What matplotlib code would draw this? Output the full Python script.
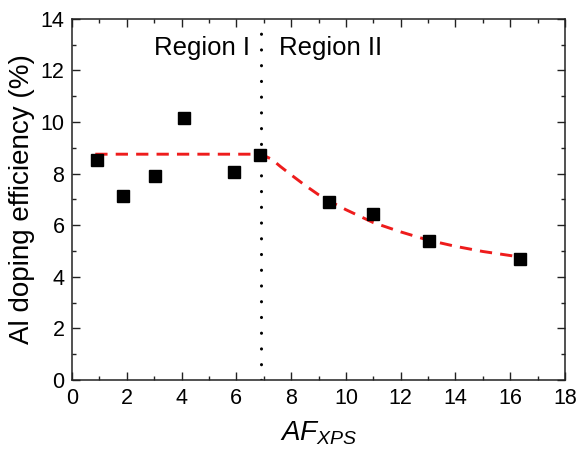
import matplotlib
matplotlib.use("Agg")
import matplotlib.pyplot as plt
from matplotlib.ticker import MultipleLocator

plt.rcParams['font.family'] = ['Liberation Sans', 'DejaVu Sans']
plt.rcParams['mathtext.fontset'] = 'custom'
plt.rcParams['mathtext.rm'] = 'Liberation Sans'
plt.rcParams['mathtext.it'] = 'Liberation Sans:italic'

# Measured doping efficiency versus AF_XPS
af_xps = [0.90, 1.87, 3.03, 4.09, 5.91, 6.86, 9.39, 11.0, 13.05, 16.36]
efficiency = [8.53, 7.14, 7.92, 10.17, 8.07, 8.70, 6.90, 6.43, 5.40, 4.70]

# Guide-to-the-eye trend curve
trend_x = [0.85, 6.90, 7.3, 7.6, 8.0, 8.5, 9.0, 9.5, 10.0, 11.0, 12.0, 13.0, 14.0, 15.0, 16.4]
trend_y = [8.75, 8.75, 8.55, 8.28, 7.95, 7.55, 7.18, 6.88, 6.60, 6.10, 5.74, 5.42, 5.18, 4.98, 4.76]

# Boundary between the two regions
boundary = 6.9

region_labels = ["Region I", "Region II"]

fig = plt.figure(figsize=(5.78, 4.62), dpi=100)
ax = fig.add_axes([0.1246, 0.1775, 0.8529, 0.782])

ax.plot(trend_x, trend_y, color='#ee1c1c', lw=2.1, linestyle=(0, (4.2, 2.8)), zorder=2)
ax.plot(af_xps, efficiency, linestyle='none', marker='s', ms=8.3,
        color='black', zorder=3)
ax.axvline(boundary, color='black', lw=2.2, linestyle=(0, (0.05, 5.1)),
           dash_capstyle='round', zorder=1)

ax.text(boundary - 0.4, 12.85, region_labels[0], ha='right', va='center', fontsize=18.5)
ax.text(boundary + 0.65, 12.85, region_labels[1], ha='left', va='center', fontsize=18.5)

ax.set_xlim(0, 18)
ax.set_ylim(0, 14)
ax.xaxis.set_major_locator(MultipleLocator(2))
ax.xaxis.set_minor_locator(MultipleLocator(1))
ax.yaxis.set_major_locator(MultipleLocator(2))
ax.yaxis.set_minor_locator(MultipleLocator(1))
ax.tick_params(which='both', direction='in', top=True, right=True,
               width=1.0, color='#222222')
ax.tick_params(which='major', length=5.5, labelsize=15.5, pad=5.5)
ax.tick_params(which='minor', length=3)
for s in ax.spines.values():
    s.set_linewidth(1.1)
    s.set_color('#222222')

ax.set_ylabel("Al doping efficiency (%)", fontsize=20, labelpad=4)
ax.set_xlabel(r"$AF_{XPS}$", fontsize=20, labelpad=8)

fig.savefig("out.png", dpi=100)
